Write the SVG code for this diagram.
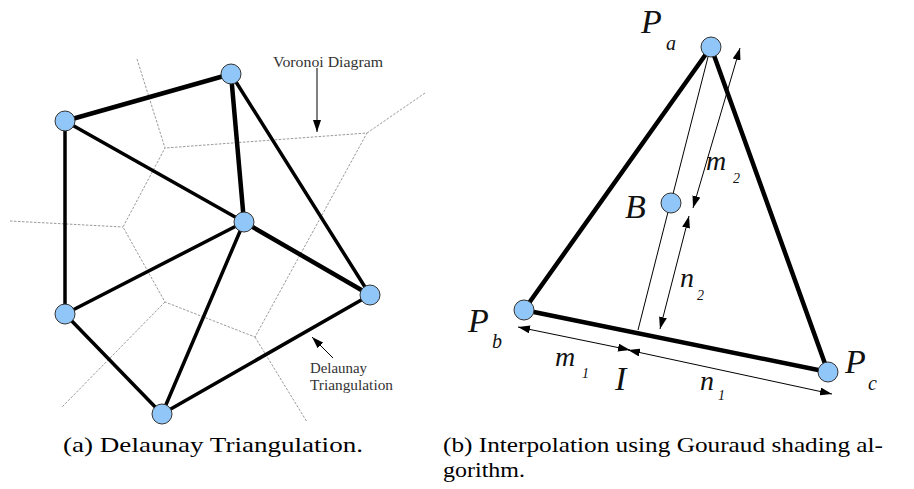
<svg xmlns="http://www.w3.org/2000/svg" width="914" height="489" viewBox="0 0 914 489">
<style>
.vor{fill:none;stroke:#9a9a9a;stroke-width:1;stroke-dasharray:2.5 1.5}
.edge{stroke:#000;stroke-width:3.5;stroke-linecap:round}
.thick{stroke-width:4.5}
.node{fill:#91c6f8;stroke:#333;stroke-width:1}
.thin{stroke:#000;stroke-width:1;fill:none}
.lbl{font-family:"Liberation Serif",serif;font-size:14px;fill:#333}
.it{font-family:"Liberation Serif",serif;font-style:italic;fill:#111}
.cap{font-family:"Liberation Serif",serif;font-size:22px;fill:#000}
</style>
<defs>
<marker id="ah" viewBox="0 0 12 8" refX="12" refY="4" markerWidth="12" markerHeight="8" markerUnits="userSpaceOnUse" orient="auto-start-reverse">
<path d="M0,0 L12,4 L0,8 z" fill="#000"/>
</marker>
</defs>
<g id="voronoi">
<polyline class="vor" points="137,59 165,148 123,227 165,302 255,337 367,133 165,148"/>
<line class="vor" x1="367" y1="133" x2="425" y2="93"/>
<line class="vor" x1="10" y1="221" x2="123" y2="227"/>
<line class="vor" x1="165" y1="302" x2="62" y2="407"/>
<line class="vor" x1="255" y1="337" x2="307" y2="422"/>
</g>
<g id="connectors">
<line class="edge thick" x1="65" y1="121" x2="231" y2="74"/>
<line class="edge" x1="65" y1="121" x2="244" y2="222"/>
<line class="edge" x1="65" y1="121" x2="65" y2="314"/>
<line class="edge thick" x1="231" y1="74" x2="244" y2="222"/>
<line class="edge" x1="231" y1="74" x2="370" y2="295"/>
<line class="edge" x1="244" y1="222" x2="65" y2="314"/>
<line class="edge" x1="244" y1="222" x2="162" y2="414"/>
<line class="edge thick" x1="244" y1="222" x2="370" y2="295"/>
<line class="edge" x1="65" y1="314" x2="162" y2="414"/>
<line class="edge" x1="162" y1="414" x2="370" y2="295"/>
<line class="thin" x1="317" y1="68" x2="317" y2="132" marker-end="url(#ah)"/>
<line class="thin" x1="333" y1="358" x2="312" y2="337" marker-end="url(#ah)"/>
<line class="edge thick" x1="711" y1="47" x2="524" y2="310"/>
<line class="edge thick" x1="711" y1="47" x2="828" y2="372"/>
<line class="edge thick" x1="524" y1="310" x2="828" y2="372"/>
<line class="thin" x1="708" y1="57" x2="673" y2="194"/>
<line class="thin" x1="668" y1="212" x2="638" y2="330"/>
<line class="thin" x1="740" y1="48" x2="693" y2="208" marker-start="url(#ah)" marker-end="url(#ah)"/>
<line class="thin" x1="689" y1="216" x2="660" y2="329" marker-start="url(#ah)" marker-end="url(#ah)"/>
<line class="thin" x1="518" y1="327" x2="630" y2="350" marker-start="url(#ah)" marker-end="url(#ah)"/>
<line class="thin" x1="628" y1="350" x2="832" y2="394" marker-start="url(#ah)" marker-end="url(#ah)"/>
</g>
<g id="nA"><circle class="node" cx="65" cy="121" r="10"/></g>
<g id="nB"><circle class="node" cx="231" cy="74" r="10"/></g>
<g id="nC"><circle class="node" cx="244" cy="222" r="10"/></g>
<g id="nD"><circle class="node" cx="65" cy="314" r="10"/></g>
<g id="nE"><circle class="node" cx="162" cy="414" r="10"/></g>
<g id="nF"><circle class="node" cx="370" cy="295" r="10"/></g>
<g id="lblVoronoi"><text class="lbl" x="273" y="67" textLength="110" lengthAdjust="spacingAndGlyphs">Voronoi Diagram</text></g>
<g id="lblDelaunay"><text class="lbl" x="310" y="373" textLength="57" lengthAdjust="spacingAndGlyphs">Delaunay</text><text class="lbl" x="310" y="390" textLength="83" lengthAdjust="spacingAndGlyphs">Triangulation</text></g>
<g id="nPa"><circle class="node" cx="711" cy="47" r="10"/><text class="it" x="641" y="33" font-size="34">P</text><text class="it" x="666" y="50" font-size="20">a</text></g>
<g id="nBb"><circle class="node" cx="671" cy="203" r="10"/><text class="it" x="625" y="218" font-size="34">B</text></g>
<g id="nPb"><circle class="node" cx="524" cy="310" r="10"/><text class="it" x="468" y="332" font-size="34">P</text><text class="it" x="492" y="348" font-size="20">b</text></g>
<g id="nPc"><circle class="node" cx="828" cy="372" r="10"/><text class="it" x="845" y="373" font-size="34">P</text><text class="it" x="868" y="390" font-size="20">c</text></g>
<g id="lblI"><text class="it" x="615" y="390" font-size="34">I</text></g>
<g id="lblm1"><text class="it" x="555" y="366" font-size="28">m</text><text class="it" x="582" y="378" font-size="14">1</text></g>
<g id="lblm2"><text class="it" x="706" y="170" font-size="28">m</text><text class="it" x="733" y="183" font-size="14">2</text></g>
<g id="lbln1"><text class="it" x="700" y="390" font-size="28">n</text><text class="it" x="718" y="400" font-size="14">1</text></g>
<g id="lbln2"><text class="it" x="680" y="287" font-size="28">n</text><text class="it" x="697" y="300" font-size="14">2</text></g>
<g id="captions">
<text class="cap" x="63" y="452" textLength="300" lengthAdjust="spacingAndGlyphs">(a) Delaunay Triangulation.</text>
<text class="cap" x="443" y="452" textLength="440" lengthAdjust="spacingAndGlyphs">(b) Interpolation using Gouraud shading al-</text>
<text class="cap" x="443" y="477" textLength="82" lengthAdjust="spacingAndGlyphs">gorithm.</text>
</g>
</svg>
